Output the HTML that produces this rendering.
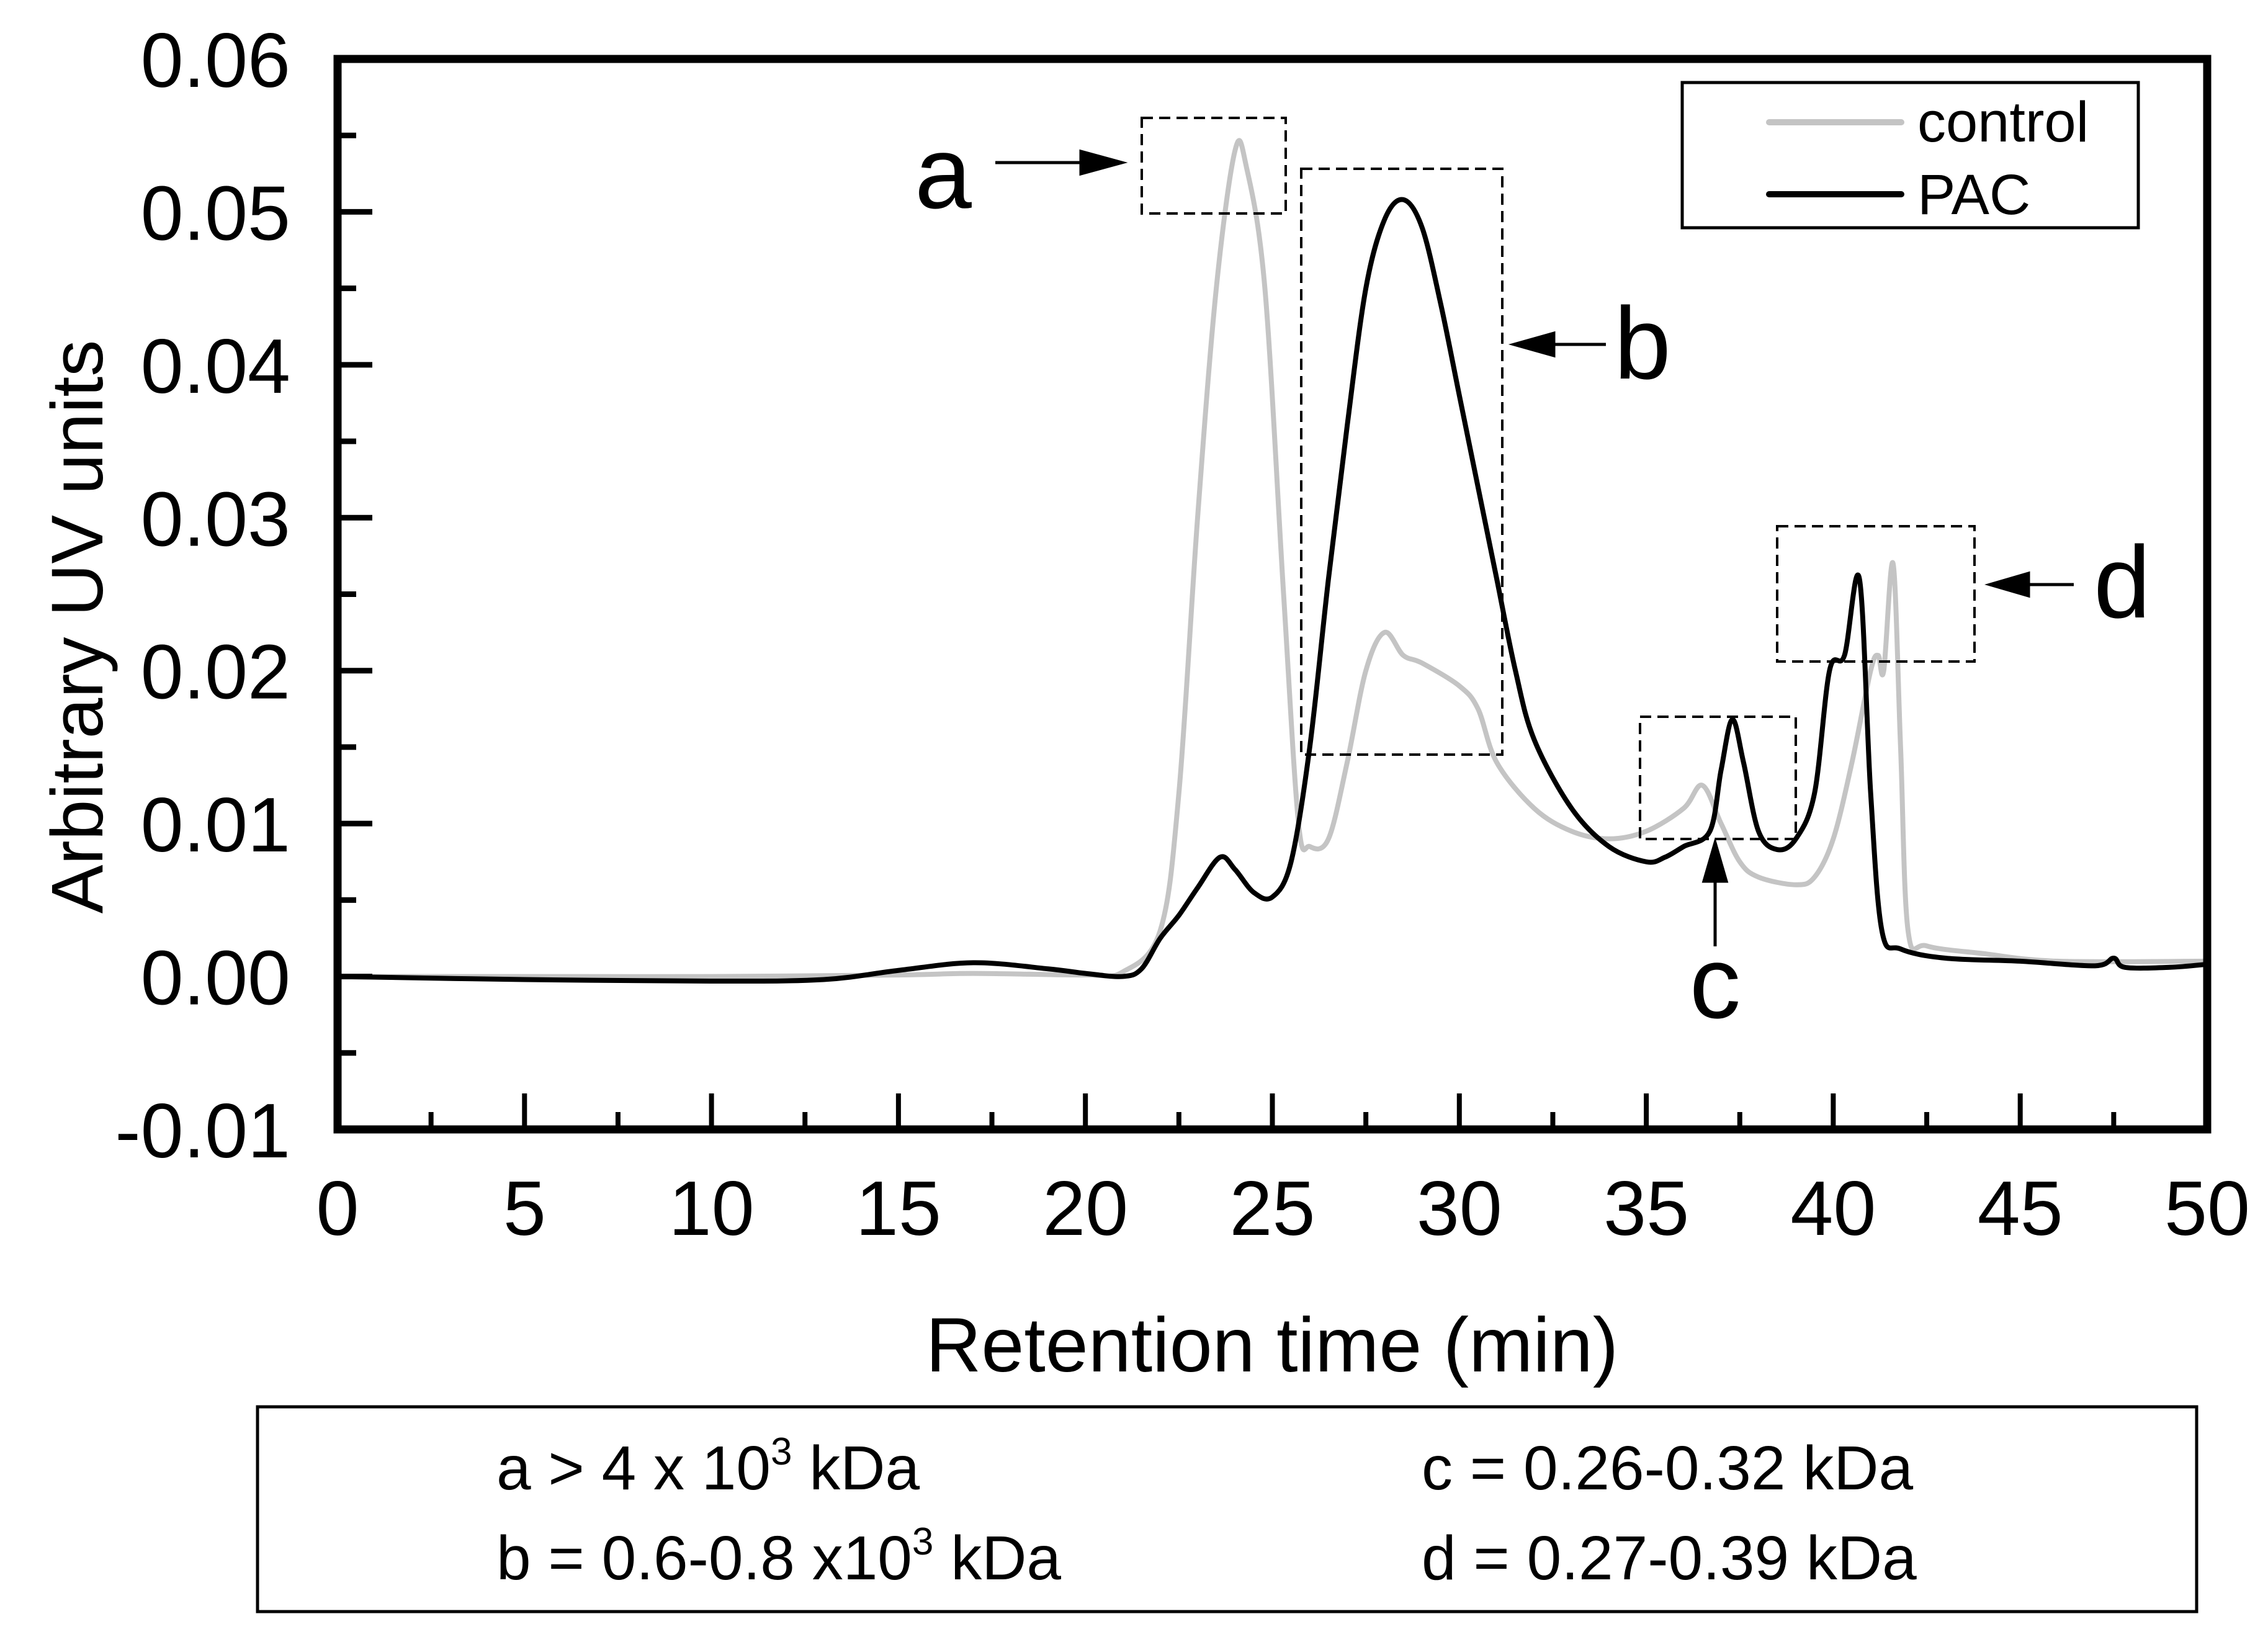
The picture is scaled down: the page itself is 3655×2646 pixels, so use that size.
<!DOCTYPE html>
<html><head><meta charset="utf-8"><style>
html,body{margin:0;padding:0;background:#fff}
svg{display:block;font-family:"Liberation Sans",Arial,sans-serif}
</style></head><body>
<svg id="chart" width="3655" height="2646" viewBox="0 0 3655 2646" xmlns="http://www.w3.org/2000/svg">
<g id="marks"></g>
<g id="axes"></g>
<g id="annot"></g>
</svg>
<script>
const xTicks=[0,5,10,15,20,25,30,35,40,45,50];
const yTicks=[-0.01,0,0.01,0.02,0.03,0.04,0.05,0.06];
const yTickLabels=["-0.01","0.00","0.01","0.02","0.03","0.04","0.05","0.06"];
const controlX=[0,5,10,15,17,20,21,22,22.5,23,23.5,24,24.3,24.8,25.3,25.7,26,26.5,27,27.5,28,28.5,29,30,30.5,31,32,33,34,35,36,36.5,37,37.5,38,39,39.5,40,40.5,41,41.2,41.35,41.6,41.8,42,42.5,44,46,50];
const controlY=[0,0,0,0.0001,0.0002,0.0001,0.0003,0.003,0.012,0.03,0.045,0.054,0.053,0.045,0.025,0.01,0.0085,0.009,0.014,0.02,0.0225,0.021,0.0205,0.019,0.0175,0.014,0.011,0.0095,0.009,0.0095,0.011,0.0125,0.01,0.0075,0.0065,0.006,0.0065,0.009,0.014,0.02,0.021,0.02,0.027,0.015,0.003,0.002,0.0015,0.001,0.001];
const pacX=[0,5,10,13,15,17,19,20,21,21.5,22,22.5,23,23.6,24,24.5,25,25.5,26,26.5,27,27.5,28,28.5,29,29.5,30,30.5,31,31.5,32,33,34,35,35.5,36,36.7,37,37.3,37.6,38,38.5,39,39.5,39.9,40.3,40.7,41,41.3,41.8,43,45,47,47.5,47.8,49,50];
const pacY=[0,-0.0002,-0.0003,-0.0002,0.0004,0.0009,0.0005,0.0002,0,0.0005,0.0025,0.004,0.0058,0.0078,0.007,0.0055,0.0052,0.0075,0.015,0.026,0.036,0.045,0.0495,0.0508,0.049,0.044,0.038,0.032,0.026,0.02,0.0155,0.011,0.0085,0.0075,0.0078,0.0085,0.0095,0.0135,0.0168,0.014,0.0095,0.0083,0.009,0.012,0.02,0.021,0.026,0.012,0.003,0.0018,0.0012,0.001,0.0007,0.0012,0.0006,0.0006,0.0008];

const L=544,R=3557,T=95,B=1820;
const sx=v=>L+(v-0)/(50-0)*(R-L);
const sy=v=>B-(v+0.01)/0.07*(B-T);
const NS="http://www.w3.org/2000/svg";
function mk(tag,attrs,parent){const e=document.createElementNS(NS,tag);for(const k in attrs)e.setAttribute(k,attrs[k]);parent.appendChild(e);return e;}
const marks=document.getElementById('marks'),axes=document.getElementById('axes'),annot=document.getElementById('annot');

function smoothPath(xs,ys){
  const p=xs.map((x,i)=>[sx(x),sy(ys[i])]);
  let d=`M${p[0][0]},${p[0][1]}`;
  for(let i=0;i<p.length-1;i++){
    const p0=p[i-1]||p[i],p1=p[i],p2=p[i+1],p3=p[i+2]||p2;
    const c1=[p1[0]+(p2[0]-p0[0])/6,p1[1]+(p2[1]-p0[1])/6];
    const c2=[p2[0]-(p3[0]-p1[0])/6,p2[1]-(p3[1]-p1[1])/6];
    d+=` C${c1[0]},${c1[1]} ${c2[0]},${c2[1]} ${p2[0]},${p2[1]}`;
  }
  return d;
}
const cl=mk('path',{d:smoothPath(controlX,controlY),fill:'none',stroke:'#c4c4c4','stroke-width':8,'stroke-linejoin':'round'},marks);


const pl=mk('path',{d:smoothPath(pacX,pacY),fill:'none',stroke:'#000','stroke-width':8,'stroke-linejoin':'round'},marks);



const fr=mk('rect',{x:L,y:T,width:R-L,height:B-T,fill:'none',stroke:'#000','stroke-width':13},axes);


for(let i=0;i<xTicks.length;i++){
  const x=sx(xTicks[i]);
  const t=mk('line',{x1:x,x2:x,y1:B,y2:B-58,stroke:'#000','stroke-width':8},axes);
  
  
  if(i<xTicks.length-1){const xm=sx(xTicks[i]+2.5);mk('line',{x1:xm,x2:xm,y1:B,y2:B-28,stroke:'#000','stroke-width':8},axes);}
  const lb=mk('text',{x:x,y:1990,'font-size':124,'text-anchor':'middle'},axes);
  lb.textContent=xTicks[i];
  
  
}
for(let i=0;i<yTicks.length;i++){
  const y=sy(yTicks[i]);
  const t=mk('line',{x1:L,x2:L+56,y1:y,y2:y,stroke:'#000','stroke-width':9},axes);
  
  
  if(i<yTicks.length-1){const ym=sy(yTicks[i]+0.005);mk('line',{x1:L,x2:L+30,y1:ym,y2:ym,stroke:'#000','stroke-width':9},axes);}
  const lb=mk('text',{x:468,y:y+45,'font-size':124,'text-anchor':'end'},axes);
  lb.textContent=yTickLabels[i];
  
  
}
</script>
<script>
const svg=document.getElementById('chart');
svg.insertAdjacentHTML('beforeend',`
<text x="2050" y="2210" font-size="124" text-anchor="middle">Retention time (min)</text>
<text transform="translate(165,1010) rotate(-90)" font-size="118" text-anchor="middle">Arbitrary UV units</text>
<g>
<rect x="2711" y="133" width="735" height="234" fill="#fff" stroke="#000" stroke-width="5"/>
<line x1="2851" y1="197" x2="3064" y2="197" stroke="#c4c4c4" stroke-width="10" stroke-linecap="round"/>
<line x1="2851" y1="313" x2="3064" y2="313" stroke="#000" stroke-width="10" stroke-linecap="round"/>
<text x="3090" y="228" font-size="92">control</text>
<text x="3090" y="345" font-size="92">PAC</text>
</g>
<g fill="none" stroke="#000" stroke-width="4" stroke-dasharray="18,10">
<rect x="1840" y="190" width="232" height="154"/>
<rect x="2097" y="272" width="324" height="944"/>
<rect x="2643" y="1155" width="251" height="197"/>
<rect x="2864" y="848" width="318" height="218"/>
</g>
<g stroke="#000" stroke-width="5">
<line x1="1604" y1="262" x2="1752" y2="262"/><polygon points="1808,262 1742,244 1742,280" fill="#000"/>
<line x1="2588" y1="555" x2="2492" y2="555"/><polygon points="2440,555 2504,537 2504,573" fill="#000"/>
<line x1="2764" y1="1525" x2="2764" y2="1410"/><polygon points="2764,1358 2746,1420 2782,1420" fill="#000"/>
<line x1="3342" y1="942" x2="3257" y2="942"/><polygon points="3207,942 3269,924 3269,960" fill="#000"/>
</g>
<text x="1520" y="335" font-size="165" text-anchor="middle">a</text>
<text x="2647" y="610" font-size="165" text-anchor="middle">b</text>
<text x="2764" y="1640" font-size="165" text-anchor="middle">c</text>
<text x="3420" y="995" font-size="165" text-anchor="middle">d</text>
<g>
<rect x="415" y="2267" width="3125" height="330" fill="none" stroke="#000" stroke-width="5"/>
<text x="800" y="2400" font-size="100">a &gt; 4 x 10<tspan dy="-40" font-size="62">3</tspan><tspan dy="40"> kDa</tspan></text>
<text x="800" y="2545" font-size="100">b = 0.6-0.8 x10<tspan dy="-40" font-size="62">3</tspan><tspan dy="40"> kDa</tspan></text>
<text x="2291" y="2400" font-size="100">c = 0.26-0.32 kDa</text>
<text x="2291" y="2545" font-size="100">d = 0.27-0.39 kDa</text>
</g>`);
</script>
</body></html>
